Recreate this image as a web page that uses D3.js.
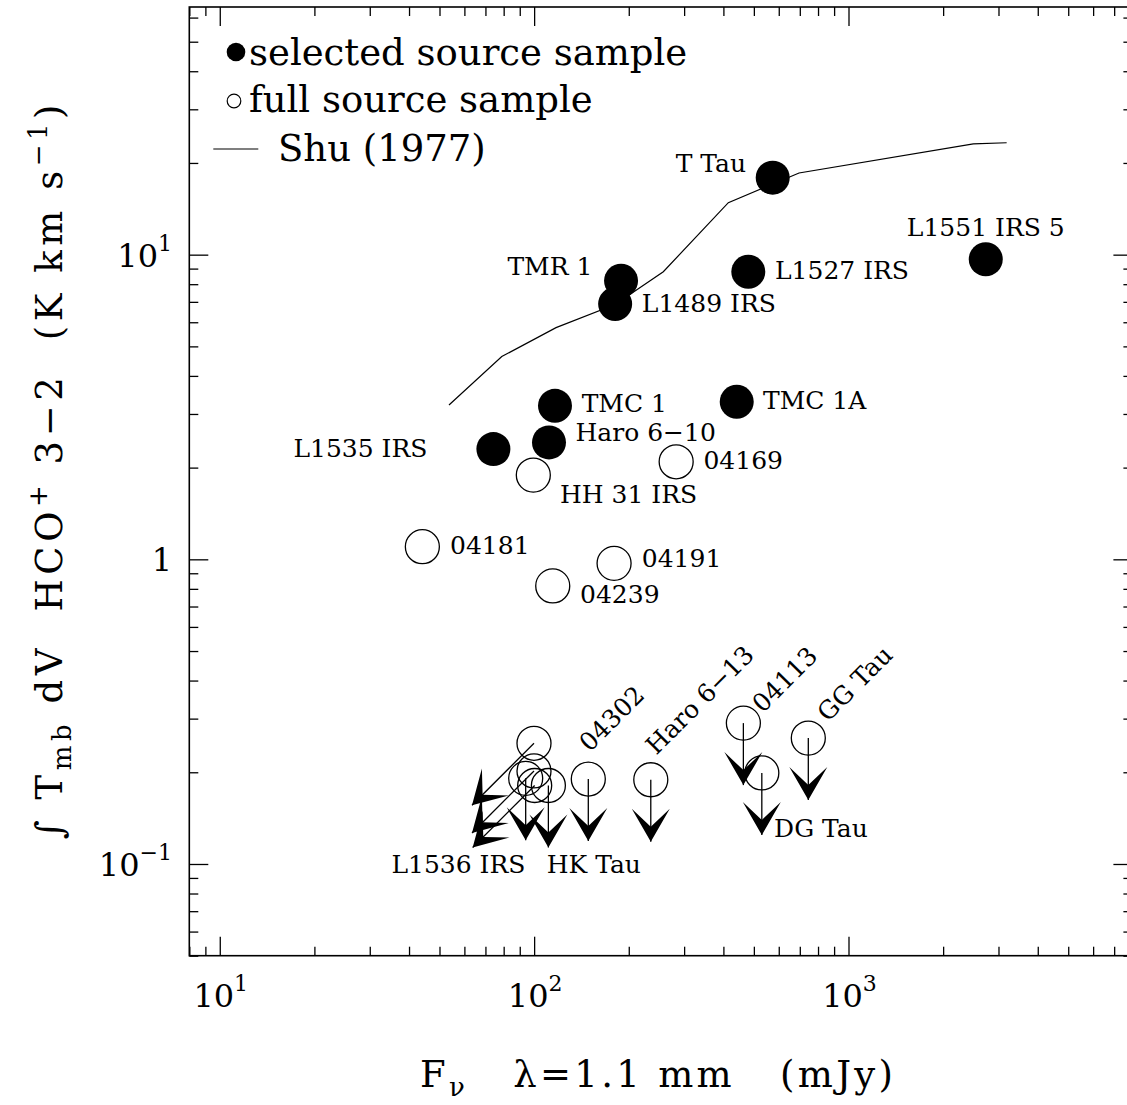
<!DOCTYPE html>
<html><head><meta charset="utf-8">
<script src="https://cdn.jsdelivr.net/npm/d3@7"></script>
<style>
body{margin:0;background:#fff}
text{font-family:"DejaVu Serif",serif;fill:#000}
</style></head>
<body><svg id="c" width="1127" height="1105"></svg>
<script>
// ---------------- data ----------------
const selectedNames = ["T Tau","L1551 IRS 5","L1527 IRS","TMR 1","L1489 IRS","TMC 1","TMC 1A","Haro 6\u221210","L1535 IRS"];
const selectedFlux  = [574, 2733, 480, 189, 181, 116.5, 441, 111.5, 74.2];
const selectedInt   = [17.9, 9.66, 8.79, 8.21, 6.89, 3.19, 3.29, 2.42, 2.30];

const fullNames = ["HH 31 IRS","04169","04181","04191","04239"];
const fullFlux  = [99.4, 283, 44.1, 179.6, 114.6];
const fullInt   = [1.89, 2.09, 1.10, 0.970, 0.818];

const limitNames = ["", "", "", "L1536 IRS", "HK Tau", "04302", "Haro 6\u221213", "04113", "DG Tau", "GG Tau"];
const limitFlux  = [99.9, 99.9, 94.0, 100.4, 111, 148.7, 235, 463, 530, 745];
const limitInt   = [0.249, 0.202, 0.191, 0.181, 0.181, 0.190, 0.189, 0.290, 0.199, 0.259];
const limitKind  = ["both","both","int","both","int","int","int","int","int","int"];

const shuFlux = [53.6, 78.9, 117.4, 181, 257.6, 414.7, 696, 2495, 3185];
const shuInt  = [3.21, 4.63, 5.76, 6.86, 8.79, 14.81, 18.54, 23.09, 23.3];

const xTickValues = [10, 100, 1000];
const xTickExp    = ["1", "2", "3"];
const yTickValues = [0.1, 1, 10];
const yTickBase   = ["10", "1", "10"];
const yTickExp    = ["\u22121", "", "1"];

const legendLabels = ["selected source sample", "full source sample", "Shu (1977)"];

// ---------------- layout / style ----------------
const L = 189.3, R = 1132.4, T = 7, B = 955.7;
const x = d3.scaleLog().domain([8, 8000]).range([L, R]);
const y = d3.scaleLog().domain([0.05, 65]).range([B, T]);
const MAJ = 19, MIN = 9;
const labelLayout = {
  "T Tau": {dx:-26.7, dy:-6, a:"end"},
  "L1551 IRS 5": {dx:0, dy:-23.3, a:"middle"},
  "L1527 IRS": {dx:26.7, dy:7.6, a:"start"},
  "TMR 1": {dx:-28.7, dy:-5.7, a:"end"},
  "L1489 IRS": {dx:26.7, dy:7.7, a:"start"},
  "TMC 1": {dx:26.7, dy:6.6, a:"start"},
  "TMC 1A": {dx:26.3, dy:7.6, a:"start"},
  "Haro 6\u221210": {dx:26.5, dy:-1.3, a:"start"},
  "L1535 IRS": {dx:-66, dy:8, a:"end"},
  "HH 31 IRS": {dx:26.7, dy:28.3, a:"start"},
  "04169": {dx:27.3, dy:7.6, a:"start"},
  "04181": {dx:27.7, dy:7.3, a:"start"},
  "04191": {dx:27.7, dy:4, a:"start"},
  "04239": {dx:27.3, dy:17.3, a:"start"},
  "L1536 IRS": {dx:-143.3, dy:87.3, a:"start"},
  "HK Tau": {dx:-1.6, dy:87.3, a:"start"},
  "04302": {dx:1.5, dy:-26.3, a:"start", rot:-45},
  "Haro 6\u221213": {dx:5.5, dy:-24, a:"start", rot:-45},
  "04113": {dx:19.5, dy:-9.3, a:"start", rot:-45},
  "DG Tau": {dx:12.3, dy:64, a:"start"},
  "GG Tau": {dx:19.5, dy:-15.3, a:"start", rot:-45}
};
const RAD = 17, ARROW = 62, LABEL_FS = 25;

const svg = d3.select("#c");

// ---------------- axes / frame ----------------
function isMajor(v){ const l = Math.log10(v); return Math.abs(l - Math.round(l)) < 1e-9; }
const xt = x.ticks(), yt = y.ticks();
const xMaj = xt.filter(isMajor), xMin = xt.filter(v => !isMajor(v));
const yMaj = yt.filter(isMajor), yMin = yt.filter(v => !isMajor(v));

function axis(gen, scale, vals, size, tr){
  const g = svg.append("g").attr("transform", tr)
    .call(gen(scale).tickValues(vals).tickSize(size).tickSizeOuter(0).tickFormat(""));
  g.select(".domain").remove();
  g.selectAll("line").attr("stroke","#000").attr("stroke-width",1.3);
}
axis(d3.axisBottom, x, xMaj, -MAJ, `translate(0,${B})`);
axis(d3.axisBottom, x, xMin, -MIN, `translate(0,${B})`);
axis(d3.axisTop, x, xMaj, -MAJ, `translate(0,${T})`);
axis(d3.axisTop, x, xMin, -MIN, `translate(0,${T})`);
axis(d3.axisLeft, y, yMaj, -MAJ, `translate(${L},0)`);
axis(d3.axisLeft, y, yMin, -MIN, `translate(${L},0)`);
axis(d3.axisRight, y, yMaj, -MAJ, `translate(${R},0)`);
axis(d3.axisRight, y, yMin, -MIN, `translate(${R},0)`);
svg.append("rect").attr("x",L).attr("y",T).attr("width",R-L).attr("height",B-T)
  .attr("fill","none").attr("stroke","#000").attr("stroke-width",1.6);

// tick labels
xTickValues.forEach((v,i)=>{
  const t = svg.append("text").attr("x", x(v)+1).attr("y", 1007).attr("text-anchor","middle")
    .attr("font-size",32);
  t.append("tspan").text("10");
  t.append("tspan").attr("dy",-16).attr("font-size",22).text(xTickExp[i]);
});
yTickValues.forEach((v,i)=>{
  const t = svg.append("text").attr("x", 172).attr("y", y(v)+12).attr("text-anchor","end")
    .attr("font-size",32);
  t.append("tspan").text(yTickBase[i]);
  if (yTickExp[i]) t.append("tspan").attr("dy",-16).attr("font-size",22).text(yTickExp[i]);
});

// axis titles
const xt1 = svg.append("text").attr("x",656.5).attr("y",1087).attr("text-anchor","middle")
  .attr("font-size",37).attr("textLength",473).attr("lengthAdjust","spacing")
  .style("white-space","pre");
xt1.append("tspan").text("F");
xt1.append("tspan").attr("dy",9).attr("font-size",26).text("\u03bd");
xt1.append("tspan").attr("dy",-9).text("   \u03bb=1.1 mm   (mJy)");

const yt1 = svg.append("text").attr("transform","translate(62,472) rotate(-90)")
  .attr("text-anchor","middle").attr("font-size",37)
  .attr("textLength",735).attr("lengthAdjust","spacing").style("white-space","pre");
yt1.append("tspan").text("\u222b T");
yt1.append("tspan").attr("dy",9).attr("font-size",26).text("mb");
yt1.append("tspan").attr("dy",-9).text(" dV  HCO");
yt1.append("tspan").attr("dy",-15).attr("font-size",26).text("+");
yt1.append("tspan").attr("dy",15).text(" 3\u22122  (K km s");
yt1.append("tspan").attr("dy",-15).attr("font-size",26).text("\u22121");
yt1.append("tspan").attr("dy",15).text(")");

// ---------------- Shu curve ----------------
const shu = shuFlux.map((f,i)=>[f, shuInt[i]]);
svg.append("path").datum(shu)
  .attr("d", d3.line().x(d=>x(d[0])).y(d=>y(d[1])))
  .attr("fill","none").attr("stroke","#000").attr("stroke-width",1.2);

// ---------------- upper limits ----------------
const chevron = "M0,0 L-19,-33 L0,-15 L19,-33 Z";
const lim = limitNames.map((n,i)=>({n, f:limitFlux[i], v:limitInt[i], k:limitKind[i]}));
lim.forEach(d=>{
  const cx = x(d.f), cy = y(d.v);
  svg.append("circle").attr("cx",cx).attr("cy",cy).attr("r",RAD)
    .attr("fill","none").attr("stroke","#000").attr("stroke-width",1.3);
  const tx = d.k === "both" ? cx - ARROW : cx, ty = cy + ARROW;
  svg.append("line").attr("x1",cx).attr("y1",cy).attr("x2",tx).attr("y2",ty)
    .attr("stroke","#000").attr("stroke-width",1.3);
  svg.append("path").attr("d",chevron)
    .attr("transform",`translate(${tx},${ty}) rotate(${d.k==="both"?45:0})`)
    .attr("fill","#000");
});

// ---------------- full sample (open) ----------------
const full = fullNames.map((n,i)=>({n, f:fullFlux[i], v:fullInt[i]}));
svg.selectAll(".open").data(full).enter().append("circle")
  .attr("cx",d=>x(d.f)).attr("cy",d=>y(d.v)).attr("r",RAD)
  .attr("fill","none").attr("stroke","#000").attr("stroke-width",1.3);

// ---------------- selected sample (filled) ----------------
const sel = selectedNames.map((n,i)=>({n, f:selectedFlux[i], v:selectedInt[i]}));
svg.selectAll(".filled").data(sel).enter().append("circle")
  .attr("cx",d=>x(d.f)).attr("cy",d=>y(d.v)).attr("r",RAD).attr("fill","#000");

// ---------------- point labels ----------------
[...sel, ...full, ...lim].forEach(d=>{
  if (!d.n) return;
  const o = labelLayout[d.n];
  const px = x(d.f) + o.dx, py = y(d.v) + o.dy;
  svg.append("text").attr("font-size",LABEL_FS).attr("text-anchor",o.a)
    .attr("transform",`translate(${px},${py})` + (o.rot ? ` rotate(${o.rot})` : ""))
    .text(d.n);
});

// ---------------- legend ----------------
const lg = svg.append("g");
lg.append("circle").attr("cx",236).attr("cy",52).attr("r",9.3).attr("fill","#000");
lg.append("text").attr("x",249).attr("y",64.5).attr("font-size",37).text(legendLabels[0]);
lg.append("circle").attr("cx",234).attr("cy",101).attr("r",6.8)
  .attr("fill","none").attr("stroke","#000").attr("stroke-width",1.2);
lg.append("text").attr("x",249).attr("y",111.5).attr("font-size",37).text(legendLabels[1]);
lg.append("line").attr("x1",213.3).attr("x2",258.3).attr("y1",149).attr("y2",149)
  .attr("stroke","#000").attr("stroke-width",1.2);
lg.append("text").attr("x",278).attr("y",161).attr("font-size",37).text(legendLabels[2]);
</script></body></html>
